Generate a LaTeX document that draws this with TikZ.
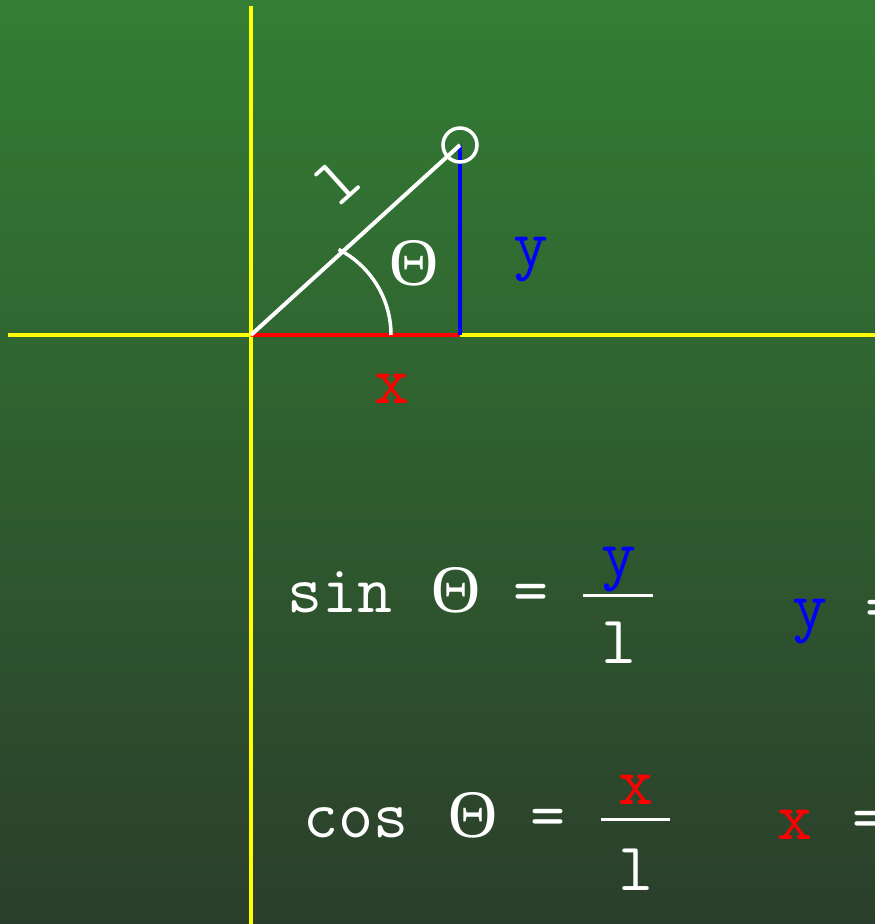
\documentclass[tikz,border=0pt]{standalone}
\usepackage{fontspec}
\setmonofont{Latin Modern Mono}
\newfontfamily\greekfont{Liberation Serif}
\usetikzlibrary{positioning}
\definecolor{bgTop}{RGB}{51,126,52}
\definecolor{bgBot}{RGB}{43,62,43}
\definecolor{axisYel}{RGB}{255,255,0}
\colorlet{cX}{red}
\colorlet{cY}{blue}
\newcommand{\Th}{{\greekfont\fontsize{68}{70}\selectfont Θ}}

\begin{document}
\begin{tikzpicture}[
  x=1pt, y=1pt,
  axis/.style={axisYel, line width=4pt},
  leg/.style={line width=4pt},
  bar/.style={white, line width=3pt},
  big/.style={font=\ttfamily\fontsize{68}{70}\selectfont, text=white,
              inner sep=0pt},
]

% =========================================================================
% Canvas: 875 x 924, one unit per pixel, origin bottom left
% =========================================================================
\clip (0,0) rectangle (875,924);
\shade[top color=bgTop, bottom color=bgBot] (0,0) rectangle (875,924);

% ---- axes ---------------------------------------------------------------
\draw[axis] (251,918) -- (251,0);
\draw[axis] (8,589) -- (875,589);

% ---- the triangle -------------------------------------------------------
\coordinate (O) at (251,589);
\coordinate (P) at (460,779);
\coordinate (F) at (460,589);
\coordinate (A0) at (391,589);

\draw[leg, cX] (O) -- (F);
\draw[leg, cY] (F) -- (P);
\draw[leg, white] (O) -- (P);
\draw[white, line width=3.5pt] (A0) arc[start angle=0, end angle=63, radius=96];
\draw[white, line width=3.5pt] (P) circle (17);

\node[big, rotate=42] (hyplbl) at (338,743) {l};
\node[big] (anglbl) at (414,661) {\Th};
\node[big, text=cY, anchor=base] (ylbl) at (531,657) {y};
\node[big, text=cX, anchor=base] (xlbl) at (392,520) {x};

% ---- sine ---------------------------------------------------------------
\node[big, anchor=base west] (sinlhs) at (287,311)
  {sin\hspace{39pt}\Th\hspace{33pt}=};
\node[big, text=cY, anchor=base] (sinnum) at (619,347) {y};
\node[big, anchor=base] (sinden) at (619,260) {l};
\draw[bar] (583,328.5) -- (653,328.5);
\node[big, anchor=base west] (sinrhs) at (792,295)
  {\textcolor{cY}{y}\hspace{38pt}=};

% ---- cosine -------------------------------------------------------------
\node[big, anchor=base west] (coslhs) at (303,86)
  {cos\hspace{40pt}\Th\hspace{33pt}=};
\node[big, text=cX, anchor=base] (cosnum) at (636,119) {x};
\node[big, anchor=base] (cosden) at (636,34) {l};
\draw[bar] (601,104) -- (670,104);
\node[big, anchor=base west] (cosrhs) at (777,84)
  {\textcolor{cX}{x}\hspace{40pt}=};

\end{tikzpicture}
\end{document}
